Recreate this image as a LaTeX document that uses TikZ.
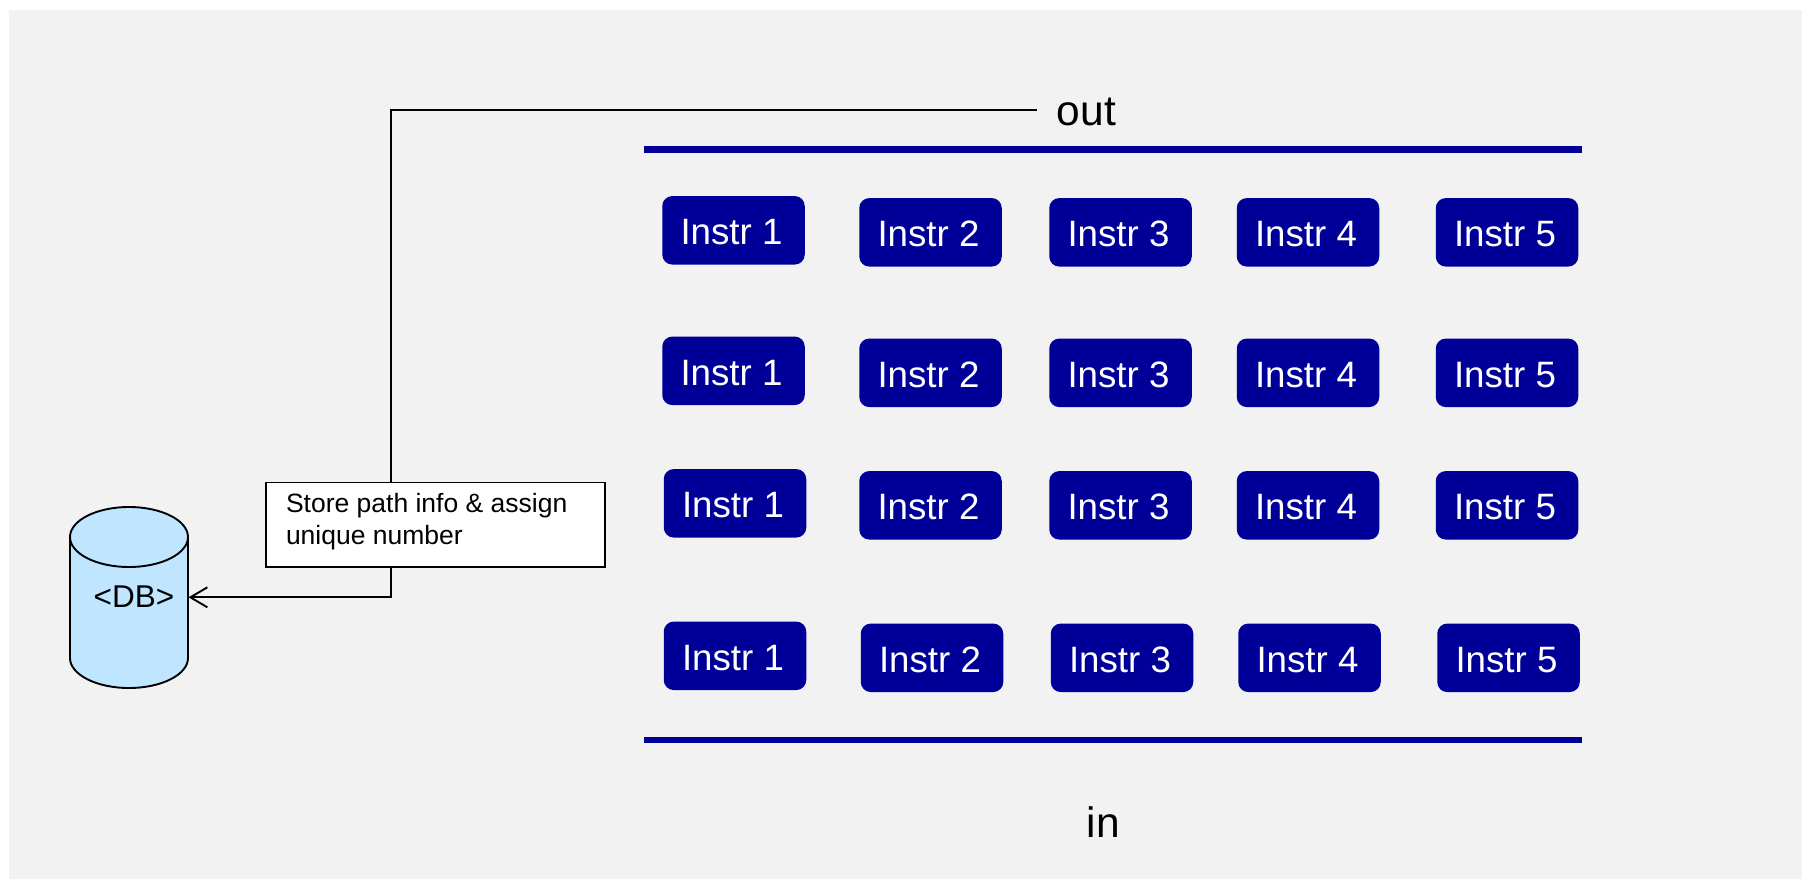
\documentclass[tikz,border=0pt]{standalone}
\usepackage{fontspec}
\setmainfont{Liberation Sans}
\usetikzlibrary{arrows.meta}
\definecolor{panel}{HTML}{F2F2F2}
\definecolor{instrblue}{HTML}{000099}
\definecolor{dbfill}{HTML}{BFE5FF}
\tikzset{
  instr/.style={rounded corners=10pt,fill=instrblue,text=white,minimum width=142.5pt,minimum height=68.5pt,inner sep=0pt,text height=28.6pt,text depth=0pt,font=\fontsize{36.7}{42}\selectfont},
  rail/.style={draw=instrblue,line width=6.5pt},
  wire/.style={draw=black,line width=1.9pt},
  bigtext/.style={inner sep=0pt,font=\fontsize{42.5}{48}\selectfont},
  notebox/.style={draw=black,fill=white,line width=1.9pt,minimum width=339pt,minimum height=84.2pt,inner xsep=20pt,inner ysep=0pt,font=\fontsize{26.5}{31.7}\selectfont},
  dbbody/.style={draw=black,fill=dbfill,line width=1.9pt}
}
\begin{document}
\begin{tikzpicture}[x=1pt,y=-1pt]
\useasboundingbox (0,0) rectangle (1802,879);
\fill[panel] (9,10) rectangle (1802,879);
% rails
\coordinate (railAw) at (644,149.6); \coordinate (railAe) at (1582,149.6);
\coordinate (railBw) at (644,739.8); \coordinate (railBe) at (1582,739.8);
\draw[rail] (railAw) -- (railAe);
\draw[rail] (railBw) -- (railBe);
% instruction boxes
\foreach \r/\n/\x/\y in {
 a/1/733.5/230.3,a/2/930.5/232.3,a/3/1120.5/232.3,a/4/1308/232.3,a/5/1507/232.3,
 b/1/733.5/370.8,b/2/930.5/372.8,b/3/1120.5/372.8,b/4/1308/372.8,b/5/1507/372.8,
 c/1/735/503.3,c/2/930.5/505.3,c/3/1120.5/505.3,c/4/1308/505.3,c/5/1507/505.3,
 d/1/735/655.8,d/2/932/657.8,d/3/1122/657.8,d/4/1309.5/657.8,d/5/1508.5/657.8}
  {\node[instr] (\r\n) at (\x,\y) {\hspace*{-4pt}Instr \n};}
% labels
\node[bigtext] (outlabel) at (1086.5,111.5) {out};
\node[bigtext] (inlabel) at (1103.5,822.5) {in};
% database
\draw[dbbody] (70,537) -- (70,658) arc[start angle=180,end angle=360,x radius=59pt,y radius=30pt] -- (188,537);
\fill[dbfill] (70,537) arc[start angle=180,end angle=360,x radius=59pt,y radius=30pt] -- cycle;
\draw[dbbody] (129,537) ellipse[x radius=59pt,y radius=30pt];
\node[inner sep=0pt,font=\fontsize{31.5}{36}\selectfont] (db) at (134,597) {<DB>};
% connector
\coordinate (wirestart) at (1037,110);
\coordinate (dbport) at (188.5,597.3);
\draw[wire,-{Straight Barb[length=17pt,width=20pt,line width=1.9pt]}] (wirestart) -| (391,597.3) -- (dbport);
% note
\node[notebox] (note) at (435.5,524.6) {\raisebox{-3pt}[14pt][14pt]{\parbox{299pt}{Store path info \& assign\\unique number}}};
\end{tikzpicture}
\end{document}
